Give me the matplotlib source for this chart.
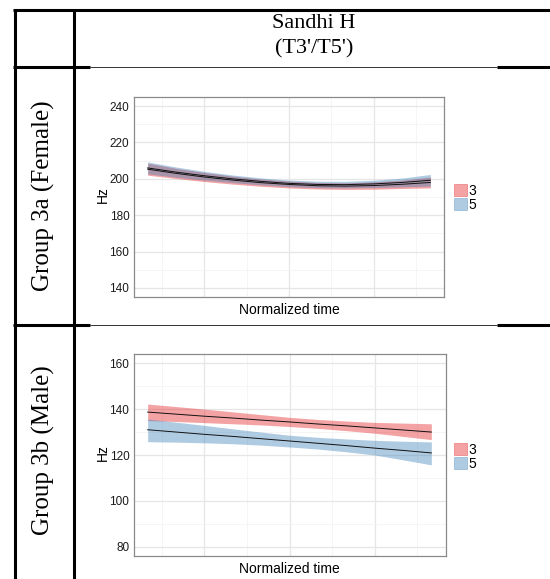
import matplotlib
matplotlib.use("Agg")
import matplotlib.pyplot as plt
from matplotlib.lines import Line2D
from matplotlib.patches import Patch
import numpy as np

W, H = 550, 579

# ---------------- data ----------------
time = [0.0, 0.1, 0.2, 0.3, 0.4, 0.5, 0.6, 0.7, 0.8, 0.9, 1.0]
series = ["3", "5"]

# Group 3a (Female)
fem_3 = [205.3, 203.0, 201.0, 199.3, 197.9, 196.9, 196.2, 196.0, 196.3, 197.0, 198.0]
fem_3_lo = [202.0, 200.2, 198.5, 197.1, 195.9, 195.0, 194.4, 194.2, 194.3, 194.7, 195.0]
fem_3_hi = [208.6, 205.8, 203.5, 201.5, 199.9, 198.8, 198.0, 197.8, 198.3, 199.3, 201.0]
fem_5 = [206.0, 203.7, 201.7, 200.0, 198.6, 197.5, 196.9, 196.8, 197.2, 198.0, 199.2]
fem_5_lo = [202.7, 200.9, 199.3, 197.9, 196.7, 195.7, 195.1, 195.0, 195.2, 195.6, 196.0]
fem_5_hi = [209.3, 206.5, 204.1, 202.1, 200.5, 199.3, 198.7, 198.6, 199.2, 200.4, 202.4]

# Group 3b (Male)
male_3 = [138.7, 137.8, 136.9, 136.1, 135.2, 134.4, 133.5, 132.7, 131.8, 130.9, 130.0]
male_3_lo = [135.0, 134.6, 134.1, 133.6, 133.1, 132.4, 131.6, 130.6, 129.5, 128.1, 126.7]
male_3_hi = [142.2, 141.1, 140.0, 138.8, 137.6, 136.4, 135.5, 134.8, 134.2, 133.9, 133.6]
male_5 = [131.0, 130.0, 129.0, 128.1, 127.1, 126.1, 125.1, 124.1, 123.0, 122.0, 120.9]
male_5_lo = [125.8, 125.6, 125.3, 124.9, 124.3, 123.5, 122.6, 121.4, 120.0, 117.9, 115.7]
male_5_hi = [135.7, 134.3, 132.9, 131.4, 130.0, 128.6, 127.7, 127.0, 126.4, 126.0, 125.7]

x_major = [0.2, 0.5, 0.8]
x_minor = [0.05, 0.35, 0.65, 0.95]
fem_ticks = [140, 160, 180, 200, 220, 240]
male_ticks = [80, 100, 120, 140, 160]

col_header = ["Sandhi H", "(T3'/T5')"]
row_labels = ["Group 3a (Female)", "Group 3b (Male)"]
x_title = "Normalized time"
y_title = "Hz"

colors = {"3": "#E41A1C", "5": "#377EB8"}

# ---------------- figure ----------------
fig = plt.figure(figsize=(W / 100, H / 100), dpi=100)
fig.patch.set_facecolor("white")

def fx(x):
    return x / W

def fy(y):
    return 1 - y / H

def hline(y, x0, x1, lw, color="black"):
    fig.add_artist(Line2D([fx(x0), fx(x1)], [fy(y), fy(y)], lw=lw, color=color,
                          transform=fig.transFigure, solid_capstyle="butt"))

def vline(x, y0, y1, lw, color="black"):
    fig.add_artist(Line2D([fx(x), fx(x)], [fy(y0), fy(y1)], lw=lw, color=color,
                          transform=fig.transFigure, solid_capstyle="butt"))

serif = ["Liberation Serif", "DejaVu Serif"]
sans = ["Liberation Sans", "DejaVu Sans"]

# table lines
thick = 2.2
hline(10, 13, 550, thick)
vline(14.5, 9, 579, thick)
vline(74, 9, 579, thick)
for yy in (67, 325):
    hline(yy, 13, 90, thick)
    hline(yy, 497, 550, thick)
    hline(yy - 0.5, 90, 497, 0.7, "#333333")

fig.text(fx(314), fy(23), col_header[0], ha="center", va="center", fontsize=16, family=serif)
fig.text(fx(314), fy(49), col_header[1], ha="center", va="center", fontsize=16, family=serif)
fig.text(fx(43.5), fy(196), row_labels[0], ha="center", va="center", rotation=90,
         fontsize=18, family=serif)
fig.text(fx(43.5), fy(450), row_labels[1], ha="center", va="center", rotation=90,
         fontsize=18, family=serif)

panels = [
    dict(box=(133.5, 97, 444.5, 297), ylim=(135, 245), ticks=fem_ticks,
         data={"3": (fem_3, fem_3_lo, fem_3_hi), "5": (fem_5, fem_5_lo, fem_5_hi)},
         leg_y=198, xt_y=310),
    dict(box=(133.5, 354, 445.5, 556), ylim=(76, 164), ticks=male_ticks,
         data={"3": (male_3, male_3_lo, male_3_hi), "5": (male_5, male_5_lo, male_5_hi)},
         leg_y=457, xt_y=569),
]

for p in panels:
    x0, y0, x1, y1 = p["box"]
    ax = fig.add_axes([fx(x0), fy(y1), (x1 - x0) / W, (y1 - y0) / H])
    ax.set_facecolor("white")
    ax.set_xlim(-0.05, 1.05)
    ax.set_ylim(*p["ylim"])
    ax.set_xticks(x_major)
    ax.set_xticks(x_minor, minor=True)
    ax.set_yticks(p["ticks"])
    ax.set_yticks([v + 10 for v in p["ticks"][:-1]], minor=True)
    ax.grid(True, which="major", color="#E6E6E6", lw=0.9)
    ax.grid(True, which="minor", color="#F4F4F4", lw=0.6)
    ax.set_axisbelow(True)
    ax.tick_params(which="both", length=0)
    ax.tick_params(axis="x", labelbottom=False)
    ax.tick_params(axis="y", pad=3, labelsize=8.5, labelcolor="#1a1a1a")
    for lab in ax.get_yticklabels():
        lab.set_family(sans)
    for s in ax.spines.values():
        s.set_color("#8a8a8a")
        s.set_linewidth(0.9)
    for key in series:
        m, lo, hi = p["data"][key]
        ax.fill_between(time, lo, hi, color=colors[key], alpha=0.4, lw=0)
    for key in series:
        m, lo, hi = p["data"][key]
        ax.plot(time, m, color="#111111", lw=0.7)
    handles = [Patch(facecolor=colors[k], alpha=0.4, edgecolor=colors[k], lw=0.6) for k in series]
    ax.legend(handles, series, loc="center left",
              bbox_to_anchor=(fx(453.5), fy(p["leg_y"])), bbox_transform=fig.transFigure,
              frameon=False, handlelength=0.95, handleheight=0.9, handletextpad=0.15,
              labelspacing=0.0, borderpad=0, borderaxespad=0,
              prop={"family": sans, "size": 10})
    fig.text(fx(289), fy(p["xt_y"]), x_title, ha="center", va="center", fontsize=10, family=sans)
    fig.text(fx(103), fy((y0 + y1) / 2 - 2), y_title, ha="center", va="center", rotation=90,
             fontsize=10, family=sans)

fig.savefig("out.png", dpi=100, facecolor="white")
